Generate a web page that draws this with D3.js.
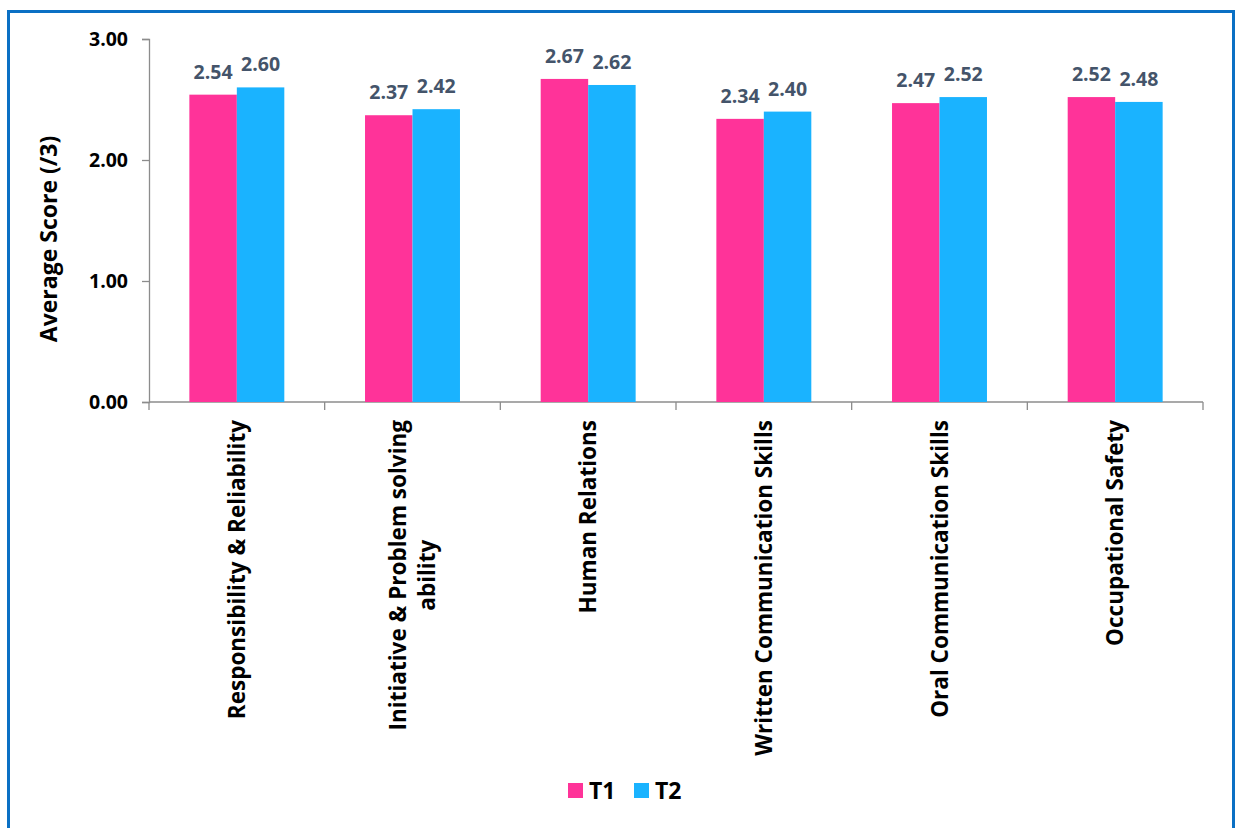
<!DOCTYPE html>
<html>
<head>
<meta charset="utf-8">
<script src="https://cdn.jsdelivr.net/npm/d3@7/dist/d3.min.js"></script>
<style>
  html, body { margin: 0; padding: 0; background: #ffffff; }
  svg { display: block; }
  text { font-family: "Open Sans", Lato, sans-serif; font-weight: bold; }
</style>
</head>
<body>
<svg id="chart" width="1235" height="828"></svg>
<script>
// Skill areas (category labels, line breaks marked with \n)
const categories = [
  "Responsibility & Reliability",
  "Initiative & Problem solving\nability",
  "Human Relations",
  "Written Communication Skills",
  "Oral Communication Skills",
  "Occupational Safety"
];
const seriesNames = ["T1", "T2"];
const t1Values = [2.54, 2.37, 2.67, 2.34, 2.47, 2.52];
const t2Values = [2.60, 2.42, 2.62, 2.40, 2.52, 2.48];
const yTicks = [0, 1, 2, 3];
const yTitle = "Average Score (/3)";

const colors = { T1: "#ff3399", T2: "#1ab3ff" };
const axisColor = "#8c8c8c";
const labelColor = "#44546a";

const svg = d3.select("#chart");

// outer frame
svg.append("rect")
  .attr("x", 8.5).attr("y", 11.5)
  .attr("width", 1225).attr("height", 840)
  .attr("fill", "none")
  .attr("stroke", "#0a70c4")
  .attr("stroke-width", 3);

const plot = { left: 149, right: 1203, top: 39, bottom: 402 };

const x0 = d3.scaleBand()
  .domain(categories)
  .range([plot.left, plot.right])
  .paddingInner(0)
  .paddingOuter(0);

const x1 = d3.scaleBand()
  .domain(seriesNames)
  .range([0, x0.bandwidth()])
  .paddingInner(0)
  .paddingOuter(0.85);

const y = d3.scaleLinear().domain([0, 3]).range([plot.bottom, plot.top]);

const rows = categories.map((c, i) => ({ cat: c, T1: t1Values[i], T2: t2Values[i] }));

// y axis
const yAxis = svg.append("g")
  .attr("transform", `translate(${plot.left},0)`)
  .call(d3.axisLeft(y).tickValues(yTicks).tickFormat(d3.format(".2f")).tickSize(7).tickPadding(14));
yAxis.select(".domain").attr("stroke", axisColor).attr("stroke-width", 1.3);
yAxis.selectAll(".tick line").attr("stroke", axisColor).attr("stroke-width", 1.3);
yAxis.selectAll(".tick text")
  .attr("fill", "#000").attr("font-size", 19.5)
  .attr("font-family", "'Open Sans', sans-serif").attr("font-weight", "bold")
  .attr("dy", "0.35em");

// x axis with boundary ticks between categories
const xAxisG = svg.append("g").attr("transform", `translate(0,${plot.bottom})`);
xAxisG.append("line")
  .attr("x1", plot.left).attr("x2", plot.right)
  .attr("stroke", axisColor).attr("stroke-width", 1.3);
const boundaries = categories.map(c => x0(c)).concat([plot.right]);
xAxisG.selectAll("line.tk").data(boundaries).join("line")
  .attr("class", "tk")
  .attr("x1", d => d).attr("x2", d => d)
  .attr("y1", 0).attr("y2", 8)
  .attr("stroke", axisColor).attr("stroke-width", 1.3);

// bars
const groups = svg.append("g").selectAll("g").data(rows).join("g")
  .attr("transform", d => `translate(${x0(d.cat)},0)`);

groups.selectAll("rect").data(d => seriesNames.map(s => ({ s, v: d[s] }))).join("rect")
  .attr("x", d => x1(d.s))
  .attr("y", d => y(d.v))
  .attr("width", x1.bandwidth())
  .attr("height", d => y(0) - y(d.v))
  .attr("fill", d => colors[d.s]);

// value labels
groups.selectAll("text.val").data(d => seriesNames.map(s => ({ s, v: d[s] }))).join("text")
  .attr("class", "val")
  .attr("x", d => x1(d.s) + x1.bandwidth() / 2)
  .attr("y", d => y(d.v) - 16)
  .attr("text-anchor", "middle")
  .attr("font-size", 19.5)
  .attr("fill", labelColor)
  .text(d => d.v.toFixed(2));

// rotated category labels
const labelTop = 420;
const catFont = 22.5;
const catG = svg.append("g");
categories.forEach(c => {
  const lines = c.split("\n");
  const cx = x0(c) + x0.bandwidth() / 2;
  const g = catG.append("g");
  const texts = lines.map(l => g.append("text")
    .attr("font-size", catFont)
    .attr("fill", "#000")
    .attr("text-anchor", "middle")
    .text(l));
  const maxLen = d3.max(texts, t => t.node().getComputedTextLength());
  const lh = 29;
  const n = lines.length;
  texts.forEach((t, i) => {
    const off = (i - (n - 1) / 2) * lh;
    // shift baseline so each line's glyph centre sits on its slot
    t.attr("transform", `translate(${cx + off + catFont * 0.36},${labelTop + maxLen / 2}) rotate(-90)`);
  });
});

// y axis title
svg.append("text")
  .attr("transform", "translate(57,239) rotate(-90)")
  .attr("text-anchor", "middle")
  .attr("font-size", 23)
  .attr("fill", "#000")
  .text(yTitle);

// legend
const legend = svg.append("g");
const legendItems = [{ s: "T1", x: 568 }, { s: "T2", x: 634 }];
legendItems.forEach(it => {
  legend.append("rect")
    .attr("x", it.x).attr("y", 783)
    .attr("width", 15).attr("height", 15)
    .attr("fill", colors[it.s]);
  legend.append("text")
    .attr("x", it.x + 21).attr("y", 799)
    .attr("font-size", 23)
    .attr("fill", "#000")
    .text(it.s);
});
</script>
</body>
</html>
